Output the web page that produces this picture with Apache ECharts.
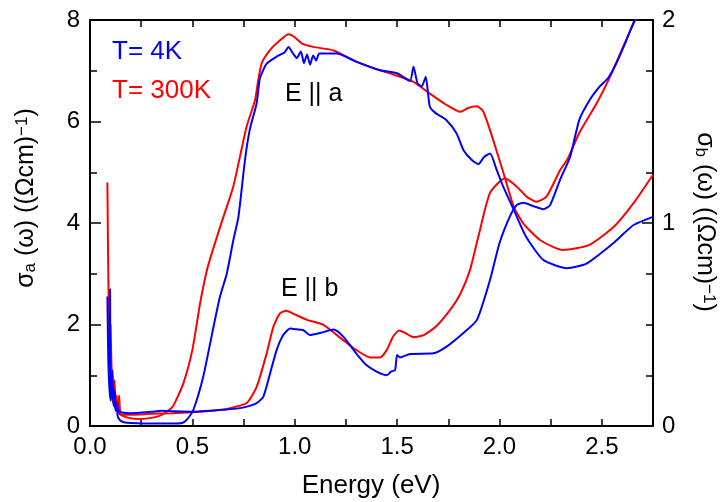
<!DOCTYPE html>
<html>
<head>
<meta charset="utf-8">
<script src="https://cdn.jsdelivr.net/npm/echarts@6/dist/echarts.min.js"></script>
<style>
  html, body { margin: 0; padding: 0; background: #fff; }
  #sigma-echarts { width: 720px; height: 502px; }
</style>
</head>
<body>
<div id="sigma-echarts"></div>
<script>
// E || a, T = 300K  (left axis, sigma_a)
let aHotE = [0.085, 0.088, 0.092, 0.097, 0.103, 0.11, 0.118, 0.125, 0.132, 0.138, 0.142, 0.148, 0.16, 0.2, 0.25, 0.3, 0.34, 0.375, 0.407, 0.456, 0.5, 0.537, 0.57, 0.6, 0.65, 0.7, 0.765, 0.806, 0.822, 0.839, 0.88, 0.928, 0.97, 1.0, 1.034, 1.09, 1.19, 1.3, 1.4, 1.465, 1.58, 1.66, 1.74, 1.81, 1.85, 1.89, 1.92, 1.954, 2.0, 2.027, 2.07, 2.117, 2.2, 2.31, 2.44, 2.56, 2.655, 2.75];
let aHotS = [4.8, 3.5, 2.2, 1.3, 0.8, 0.55, 0.4, 0.35, 0.5, 0.3, 0.6, 0.25, 0.2, 0.15, 0.14, 0.16, 0.2, 0.28, 0.4, 0.84, 1.5, 2.4, 3.05, 3.47, 4.1, 4.72, 5.9, 6.42, 6.82, 7.15, 7.41, 7.6, 7.72, 7.66, 7.54, 7.47, 7.40, 7.18, 7.03, 6.95, 6.78, 6.55, 6.33, 6.19, 6.27, 6.3, 6.2, 5.83, 5.24, 4.89, 4.32, 3.99, 3.66, 3.47, 3.57, 3.93, 4.39, 4.95];

// E || a, T = 4K  (left axis, sigma_a)
let aColdE = [0.085, 0.087, 0.09, 0.094, 0.098, 0.102, 0.108, 0.115, 0.12, 0.125, 0.13, 0.135, 0.14, 0.15, 0.17, 0.2, 0.3, 0.4, 0.45, 0.472, 0.505, 0.553, 0.6, 0.635, 0.668, 0.70, 0.725, 0.757, 0.78, 0.814, 0.83, 0.863, 0.912, 0.95, 0.97, 0.99, 1.01, 1.03, 1.045, 1.06, 1.075, 1.09, 1.105, 1.12, 1.205, 1.30, 1.417, 1.50, 1.563, 1.58, 1.60, 1.62, 1.64, 1.66, 1.69, 1.74, 1.79, 1.824, 1.865, 1.897, 1.925, 1.954, 1.987, 2.02, 2.07, 2.13, 2.215, 2.33, 2.425, 2.556, 2.655, 2.75];
let aColdS = [2.55, 1.9, 1.2, 0.8, 0.6, 0.5, 0.9, 0.4, 0.6, 0.3, 0.45, 0.2, 0.15, 0.1, 0.07, 0.06, 0.05, 0.05, 0.06, 0.12, 0.32, 0.97, 1.89, 2.55, 3.0, 3.66, 4.12, 5.24, 5.83, 6.36, 6.85, 7.14, 7.28, 7.36, 7.47, 7.35, 7.25, 7.38, 7.15, 7.32, 7.12, 7.3, 7.2, 7.34, 7.34, 7.18, 7.01, 6.95, 6.8, 7.08, 6.75, 6.69, 6.88, 6.29, 6.16, 6.03, 5.77, 5.44, 5.24, 5.16, 5.3, 5.37, 5.04, 4.7, 4.26, 3.73, 3.27, 3.11, 3.2, 3.6, 3.96, 4.12];

// E || b, T = 300K  (right axis, sigma_b)
let bHotE = [0.1, 0.105, 0.11, 0.115, 0.12, 0.125, 0.13, 0.135, 0.14, 0.15, 0.2, 0.3, 0.4, 0.5, 0.6, 0.684, 0.765, 0.814, 0.863, 0.896, 0.928, 0.96, 1.0, 1.06, 1.14, 1.237, 1.30, 1.368, 1.417, 1.45, 1.48, 1.51, 1.54, 1.58, 1.63, 1.69, 1.76, 1.81, 1.856, 1.897, 1.954, 2.027, 2.084, 2.133, 2.18, 2.23, 2.296, 2.33, 2.39, 2.475, 2.54, 2.59, 2.64, 2.67];
let bHotS = [0.5, 0.3, 0.175, 0.125, 0.225, 0.1, 0.15, 0.075, 0.063, 0.055, 0.055, 0.06, 0.063, 0.068, 0.075, 0.088, 0.113, 0.193, 0.358, 0.49, 0.555, 0.568, 0.55, 0.523, 0.498, 0.423, 0.375, 0.338, 0.338, 0.375, 0.44, 0.47, 0.458, 0.438, 0.448, 0.49, 0.573, 0.653, 0.768, 0.933, 1.148, 1.22, 1.18, 1.13, 1.105, 1.13, 1.26, 1.31, 1.443, 1.59, 1.72, 1.835, 1.95, 2.013];

// E || b, T = 4K  (right axis, sigma_b)
let bColdE = [0.095, 0.098, 0.1, 0.105, 0.11, 0.115, 0.12, 0.125, 0.13, 0.14, 0.15, 0.2, 0.3, 0.35, 0.4, 0.5, 0.65, 0.733, 0.814, 0.847, 0.88, 0.912, 0.944, 0.977, 0.993, 1.04, 1.075, 1.124, 1.19, 1.237, 1.30, 1.35, 1.40, 1.45, 1.47, 1.49, 1.50, 1.514, 1.563, 1.677, 1.74, 1.824, 1.89, 1.954, 2.0, 2.05, 2.084, 2.117, 2.165, 2.215, 2.247, 2.296, 2.345, 2.39, 2.44, 2.49, 2.53, 2.57, 2.62, 2.66, 2.68];
let bColdS = [0.3, 0.675, 0.25, 0.15, 0.275, 0.125, 0.175, 0.088, 0.113, 0.075, 0.068, 0.063, 0.07, 0.075, 0.073, 0.07, 0.08, 0.088, 0.113, 0.145, 0.26, 0.375, 0.448, 0.48, 0.478, 0.473, 0.448, 0.458, 0.475, 0.44, 0.358, 0.3, 0.268, 0.25, 0.268, 0.275, 0.35, 0.338, 0.355, 0.358, 0.39, 0.458, 0.523, 0.72, 0.9, 1.03, 1.088, 1.1, 1.083, 1.068, 1.088, 1.213, 1.325, 1.508, 1.605, 1.673, 1.713, 1.785, 1.9, 2.0, 2.05];

let xTicks = [0, 0.5, 1.0, 1.5, 2.0, 2.5];

function pairs(xs, ys) {
  return xs.map((x, i) => [x, ys[i]]);
}

let chartDom = document.getElementById("sigma-echarts");
let myChart = echarts.init(chartDom);

const RED = "#ff0000";
const BLUE = "#0000ff";
const FONT = "'Liberation Sans', Arial, sans-serif";

let lineSeries = (name, data, color, yIdx) => ({
  name: name,
  type: "line",
  yAxisIndex: yIdx,
  data: data,
  showSymbol: false,
  smooth: 0.2,
  clip: true,
  lineStyle: { color: color, width: 2 },
  itemStyle: { color: color },
  silent: true,
});

let axisLine = { show: true, onZero: false, lineStyle: { color: "#000", width: 2 } };

// axis title with sub- and superscript
let axisTitle = (sub, x, y, rot) => ({
  type: "text",
  x: x,
  y: y,
  rotation: rot,
  style: {
    text: "σ{sub|" + sub + "} (ω) ((Ωcm){sup|−1})",
    fill: "#000",
    font: "25px " + FONT,
    align: "center",
    verticalAlign: "middle",
    rich: {
      sub: { fontSize: 17, fontFamily: FONT, verticalAlign: "bottom", fill: "#000" },
      sup: { fontSize: 17, fontFamily: FONT, verticalAlign: "top", fill: "#000" },
    },
  },
});

let option = {
  animation: false,
  grid: { left: 90, right: 67, top: 20, bottom: 76, containLabel: false },
  xAxis: [
    {
      type: "value",
      min: 0,
      max: 2.75,
      interval: 0.25,
      axisLine: axisLine,
      axisTick: { inside: true, length: 7, lineStyle: { color: "#000", width: 1.5 } },
      splitLine: { show: false },
      axisLabel: {
        margin: 9,
        color: "#000",
        fontSize: 24,
        fontFamily: FONT,
        formatter: (v) => (xTicks.some((t) => Math.abs(t - v) < 1e-6) ? v.toFixed(1) : ""),
      },
    },
    {
      type: "value",
      position: "top",
      min: 0,
      max: 2.75,
      interval: 0.25,
      axisLine: axisLine,
      axisTick: { inside: true, length: 7, lineStyle: { color: "#000", width: 1.5 } },
      axisLabel: { show: false },
      splitLine: { show: false },
    },
  ],
  yAxis: [
    {
      type: "value",
      min: 0,
      max: 8,
      interval: 2,
      axisLine: axisLine,
      axisTick: { show: true, inside: true, length: 11, lineStyle: { color: "#000", width: 1.5 } },
      minorTick: { show: true, splitNumber: 2, length: 7, lineStyle: { color: "#000", width: 1.5 } },
      splitLine: { show: false },
      minorSplitLine: { show: false },
      axisLabel: { margin: 10, color: "#000", fontSize: 24, fontFamily: FONT },
    },
    {
      type: "value",
      position: "right",
      min: 0,
      max: 2,
      interval: 1,
      axisLine: axisLine,
      axisTick: { show: true, inside: true, length: 11, lineStyle: { color: "#000", width: 1.5 } },
      minorTick: { show: true, splitNumber: 4, length: 7, lineStyle: { color: "#000", width: 1.5 } },
      splitLine: { show: false },
      minorSplitLine: { show: false },
      axisLabel: { margin: 9, color: "#000", fontSize: 24, fontFamily: FONT },
    },
  ],
  graphic: [
    { type: "text", left: 112, top: 39, style: { text: "T= 4K", fill: BLUE, font: "26px " + FONT } },
    { type: "text", left: 112, top: 78, style: { text: "T= 300K", fill: RED, font: "26px " + FONT } },
    { type: "text", left: 285, top: 82, style: { text: "E || a", fill: "#000", font: "25px " + FONT } },
    { type: "text", left: 281, top: 277, style: { text: "E || b", fill: "#000", font: "25px " + FONT } },
    {
      type: "text",
      x: 371,
      y: 486,
      style: { text: "Energy (eV)", fill: "#000", font: "26px " + FONT, align: "center", verticalAlign: "middle" },
    },
    axisTitle("a", 26, 198, Math.PI / 2),
    axisTitle("b", 705, 222, -Math.PI / 2),
  ],
  series: [
    lineSeries("E||b 300K", pairs(bHotE, bHotS), RED, 1),
    lineSeries("E||a 300K", pairs(aHotE, aHotS), RED, 0),
    lineSeries("E||b 4K", pairs(bColdE, bColdS), BLUE, 1),
    lineSeries("E||a 4K", pairs(aColdE, aColdS), BLUE, 0),
  ],
};

myChart.setOption(option);
</script>
</body>
</html>
